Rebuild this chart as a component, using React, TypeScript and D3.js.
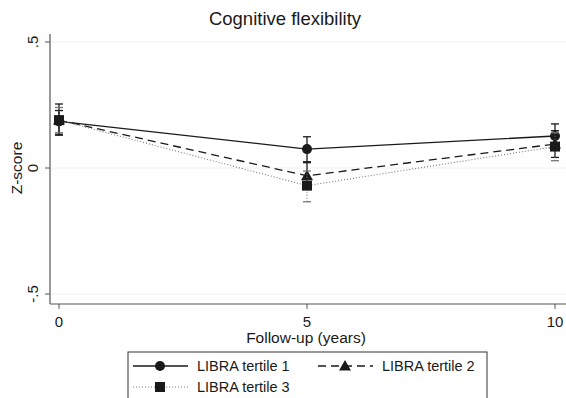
import React from "react";
import * as d3 from "d3";

// follow-up years and tick labels
const years = [0, 5, 10];
const xTicks = [0, 5, 10];
const yTicks = [-0.5, 0, 0.5];
const yTickLabels = ["-.5", "0", ".5"];

// mean z-scores with 95% CI per LIBRA tertile
const tertile1Mean = [0.185, 0.075, 0.127];
const tertile1Lo = [0.13, 0.025, 0.08];
const tertile1Hi = [0.228, 0.124, 0.175];
const tertile2Mean = [0.19, -0.031, 0.095];
const tertile2Lo = [0.134, -0.08, 0.042];
const tertile2Hi = [0.254, 0.021, 0.148];
const tertile3Mean = [0.19, -0.07, 0.085];
const tertile3Lo = [0.14, -0.134, 0.029];
const tertile3Hi = [0.24, -0.012, 0.14];

const seriesNames = ["LIBRA tertile 1", "LIBRA tertile 2", "LIBRA tertile 3"];

const W = 566;
const H = 398;
const FONT = "'Liberation Sans', Arial, Helvetica, sans-serif";
const INK = "#1a1a1a";

type Series = {
  name: string;
  mean: number[];
  lo: number[];
  hi: number[];
  dash: string;
  stroke: string;
  width: number;
  marker: "circle" | "triangle" | "square";
};

const series: Series[] = [
  { name: seriesNames[0], mean: tertile1Mean, lo: tertile1Lo, hi: tertile1Hi, dash: "none", stroke: INK, width: 1.3, marker: "circle" },
  { name: seriesNames[1], mean: tertile2Mean, lo: tertile2Lo, hi: tertile2Hi, dash: "8,5", stroke: INK, width: 1.3, marker: "triangle" },
  { name: seriesNames[2], mean: tertile3Mean, lo: tertile3Lo, hi: tertile3Hi, dash: "1,2", stroke: "#777", width: 1.1, marker: "square" },
];

function Marker({ kind, x, y }: { kind: string; x: number; y: number }) {
  if (kind === "circle") return <circle cx={x} cy={y} r={5} fill={INK} />;
  if (kind === "triangle") {
    const s = 6;
    return <path d={`M${x},${y - s}L${x + s},${y + s * 0.75}L${x - s},${y + s * 0.75}Z`} fill={INK} />;
  }
  return <rect x={x - 5} y={y - 5} width={10} height={10} fill={INK} />;
}

export default function App() {
  const x = d3.scaleLinear().domain([0, 10]).range([59, 555]);
  const y = d3.scaleLinear().domain([-0.5, 0.5]).range([294, 42]);
  const left = 50;
  const top = 34;
  const bottom = 304;

  const line = d3
    .line<number>()
    .x((_, i) => x(years[i]))
    .y((d) => y(d));

  return (
    <svg
      width={W}
      height={H}
      style={{ position: "absolute", left: 0, top: 0, background: "#fff" }}
      fontFamily={FONT}
    >
      <rect width={W} height={H} fill="#fff" />
      <text x={285} y={25} textAnchor="middle" fontSize={18.5} fill={INK}>
        Cognitive flexibility
      </text>

      {/* gridlines */}
      {yTicks.map((t) => (
        <line key={"g" + t} x1={left} x2={W} y1={y(t)} y2={y(t)} stroke="#eeeeee" strokeWidth={1} />
      ))}

      {/* y axis */}
      <line x1={left} x2={left} y1={top} y2={bottom} stroke="#555" strokeWidth={1.2} />
      {yTicks.map((t, i) => (
        <g key={"y" + t}>
          <line x1={left - 5} x2={left} y1={y(t)} y2={y(t)} stroke="#555" />
          <text
            transform={`translate(${38},${y(t)}) rotate(-90)`}
            textAnchor="middle"
            fontSize={15}
            fill={INK}
          >
            {yTickLabels[i]}
          </text>
        </g>
      ))}
      <text transform={`translate(${22},${168}) rotate(-90)`} textAnchor="middle" fontSize={15.5} fill={INK}>
        Z-score
      </text>

      {/* x axis */}
      <line x1={left} x2={W} y1={bottom} y2={bottom} stroke="#555" strokeWidth={1.2} />
      {xTicks.map((t) => (
        <g key={"x" + t}>
          <line x1={x(t)} x2={x(t)} y1={bottom} y2={bottom + 5} stroke="#555" />
          <text x={x(t)} y={327} textAnchor="middle" fontSize={15} fill={INK}>
            {t}
          </text>
        </g>
      ))}
      <text x={306} y={343} textAnchor="middle" fontSize={15.5} fill={INK}>
        Follow-up (years)
      </text>

      {/* series */}
      {series.map((s) => (
        <g key={s.name}>
          <path d={line(s.mean) || ""} fill="none" stroke={s.stroke} strokeWidth={s.width} strokeDasharray={s.dash} />
          {years.map((yr, i) => (
            <g key={yr}>
              <line x1={x(yr)} x2={x(yr)} y1={y(s.lo[i])} y2={y(s.hi[i])} stroke={s.stroke} strokeWidth={s.width} strokeDasharray={s.marker === "square" ? s.dash : "none"} />
              <line x1={x(yr) - 4} x2={x(yr) + 4} y1={y(s.lo[i])} y2={y(s.lo[i])} stroke={s.stroke} strokeWidth={1.3} />
              <line x1={x(yr) - 4} x2={x(yr) + 4} y1={y(s.hi[i])} y2={y(s.hi[i])} stroke={s.stroke} strokeWidth={1.3} />
              <Marker kind={s.marker} x={x(yr)} y={y(s.mean[i])} />
            </g>
          ))}
        </g>
      ))}

      {/* legend */}
      <rect x={128} y={352} width={359} height={60} fill="#fff" stroke="#333" strokeWidth={1} />
      {series.map((s, i) => {
        const col = i === 1 ? 1 : 0;
        const row = i === 2 ? 1 : 0;
        const lx = col === 0 ? 133 : 318;
        const ly = row === 0 ? 366 : 387;
        return (
          <g key={"l" + s.name}>
            <line x1={lx} x2={lx + 55} y1={ly} y2={ly} stroke={s.stroke} strokeWidth={s.width} strokeDasharray={s.dash} />
            <Marker kind={s.marker} x={lx + 27} y={ly} />
            <text x={lx + 64} y={ly + 5} fontSize={14.5} fill={INK}>
              {s.name}
            </text>
          </g>
        );
      })}
    </svg>
  );
}
